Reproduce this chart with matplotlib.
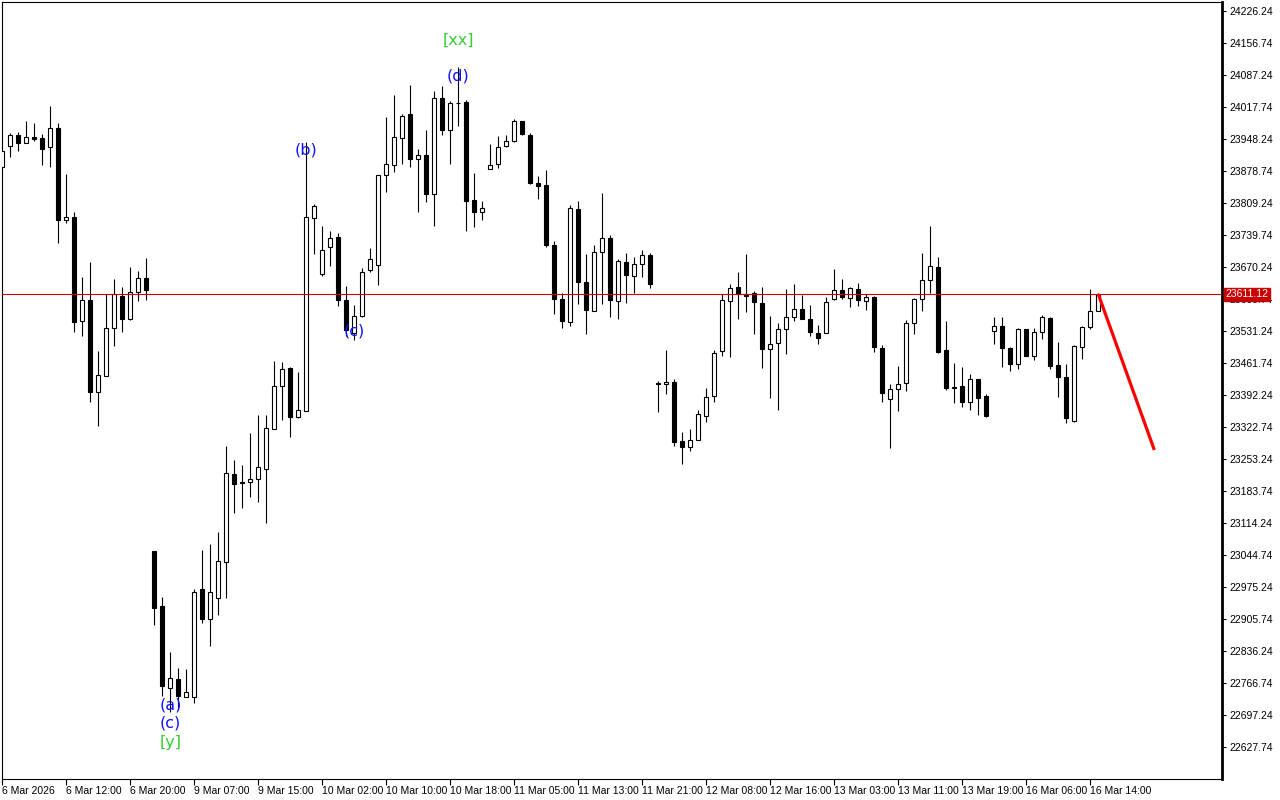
import matplotlib
matplotlib.use('Agg')
import matplotlib.pyplot as plt
import numpy as np

plt.rcParams['font.family'] = ['Liberation Sans Narrow', 'Liberation Sans', 'DejaVu Sans']

# hourly bars
opens = [
    23887.4, 23933.0, 23956.9, 23939.6, 23952.6, 23950.4, 23930.9, 23972.1, 23772.3, 23778.8,
    23553.0, 23598.6, 23398.8, 23433.5, 23537.8, 23607.3, 23557.3, 23616.0, 23646.4, 23053.4,
    22934.0, 22755.9, 22775.4, 22736.3, 22736.3, 22970.9, 22905.7, 22951.4, 23029.5, 23220.7,
    23203.3, 23203.3, 23209.8, 23231.5, 23318.4, 23411.8, 23450.9, 23344.5, 23357.5, 23776.7,
    23655.0, 23713.7, 23735.4, 23598.6, 23526.9, 23563.8, 23663.7, 23674.6, 23870.1, 23891.8,
    23950.4, 24002.5, 23904.8, 23913.5, 23828.8, 24037.3, 23967.8, 24026.4, 24028.6, 23815.8,
    23789.7, 23883.1, 23893.9, 23933.0, 23943.9, 23987.3, 23956.9, 23852.7, 23848.3, 23718.0,
    23600.7, 23550.8, 23796.2, 23637.7, 23574.7, 23702.8, 23733.2, 23596.4, 23681.1, 23650.7,
    23676.8, 23696.3, 23418.3, 23416.1, 23420.5, 23292.3, 23279.3, 23294.5, 23346.6, 23390.1,
    23487.8, 23596.4, 23626.8, 23611.6, 23613.8, 23592.1, 23492.2, 23505.2, 23535.6, 23561.6,
    23579.0, 23557.3, 23526.9, 23526.9, 23600.7, 23620.3, 23602.9, 23622.5, 23596.4, 23605.1,
    23494.3, 23383.6, 23405.3, 23418.3, 23548.6, 23600.7, 23642.0, 23670.2, 23490.0, 23409.6,
    23411.8, 23377.0, 23427.0, 23390.1, 23531.2, 23542.1, 23494.3, 23459.6, 23535.6, 23476.9,
    23529.1, 23559.5, 23457.4, 23431.3, 23335.8, 23496.5, 23539.9, 23574.7,
]
highs = [
    23924.4, 23961.3, 23963.4, 23987.3, 23983.0, 23959.1, 24019.9, 23983.0, 23872.2, 23789.7,
    23648.5, 23681.1, 23487.8, 23611.6, 23644.2, 23626.8, 23670.2, 23661.6, 23689.8, 23053.4,
    22953.5, 22834.1, 22799.3, 22797.2, 22970.9, 23055.6, 23068.6, 23094.7, 23281.5, 23251.1,
    23240.2, 23309.7, 23348.8, 23348.8, 23466.1, 23463.9, 23453.1, 23442.2, 23941.7, 23807.1,
    23759.3, 23748.4, 23744.1, 23629.0, 23587.7, 23668.1, 23711.5, 23870.1, 23996.0, 24043.8,
    24002.5, 24065.5, 23926.5, 23967.8, 24052.5, 24063.4, 24030.8, 24104.6, 24032.9, 23874.4,
    23813.6, 23937.4, 23954.8, 23956.9, 23991.7, 23987.3, 23961.3, 23867.9, 23880.9, 23726.7,
    23613.8, 23804.9, 23813.6, 23698.5, 23718.0, 23831.0, 23739.7, 23687.6, 23700.6, 23692.0,
    23707.2, 23700.6, 23422.6, 23490.0, 23427.0, 23311.9, 23318.4, 23359.7, 23407.4, 23490.0,
    23611.6, 23633.3, 23659.4, 23698.5, 23618.1, 23626.8, 23563.8, 23548.6, 23622.5, 23633.3,
    23609.4, 23587.7, 23544.3, 23605.1, 23665.9, 23644.2, 23626.8, 23635.5, 23611.6, 23607.3,
    23500.8, 23416.1, 23455.2, 23555.1, 23602.9, 23700.6, 23759.3, 23692.0, 23553.0, 23461.7,
    23453.1, 23437.9, 23427.0, 23394.4, 23561.6, 23561.6, 23496.5, 23537.8, 23535.6, 23537.8,
    23566.0, 23561.6, 23507.4, 23459.6, 23500.8, 23542.1, 23622.5, 23613.8,
]
lows = [
    23885.3, 23909.2, 23922.2, 23939.6, 23943.9, 23891.8, 23887.4, 23722.4, 23765.8, 23529.1,
    23520.4, 23377.0, 23324.9, 23433.5, 23498.7, 23529.1, 23555.1, 23596.4, 23598.6, 22892.7,
    22738.5, 22703.8, 22708.1, 22736.3, 22723.3, 22897.1, 22847.1, 22914.4, 22951.4, 23136.0,
    23146.8, 23170.7, 23159.9, 23114.2, 23318.4, 23337.9, 23301.0, 23342.3, 23357.5, 23698.5,
    23650.7, 23672.4, 23585.5, 23520.4, 23511.7, 23561.6, 23659.4, 23631.2, 23833.1, 23876.6,
    23893.9, 23887.4, 23789.7, 23811.4, 23759.3, 23956.9, 23893.9, 23976.5, 23748.4, 23757.1,
    23772.3, 23883.1, 23885.3, 23930.9, 23941.7, 23956.9, 23850.5, 23817.9, 23713.7, 23568.2,
    23537.8, 23542.1, 23589.9, 23524.7, 23574.7, 23589.9, 23561.6, 23557.3, 23592.1, 23613.8,
    23648.5, 23624.6, 23355.3, 23394.4, 23281.5, 23242.4, 23270.6, 23294.5, 23333.6, 23377.0,
    23476.9, 23474.8, 23557.3, 23572.5, 23524.7, 23450.9, 23385.7, 23359.7, 23481.3, 23553.0,
    23557.3, 23520.4, 23503.0, 23526.9, 23598.6, 23600.7, 23583.4, 23585.5, 23576.9, 23485.6,
    23377.0, 23277.1, 23357.5, 23400.9, 23524.7, 23574.7, 23613.8, 23483.5, 23403.1, 23375.0,
    23366.2, 23359.7, 23348.8, 23344.5, 23503.0, 23453.1, 23444.4, 23448.7, 23476.9, 23468.3,
    23513.9, 23448.7, 23387.9, 23331.4, 23333.6, 23470.4, 23535.6, 23574.7,
]
closes = [
    23922.2, 23956.9, 23939.6, 23952.6, 23948.2, 23926.5, 23972.1, 23772.3, 23778.8, 23550.8,
    23598.6, 23398.8, 23435.7, 23537.8, 23611.6, 23557.3, 23616.0, 23646.4, 23620.3, 22929.6,
    22760.2, 22777.6, 22738.5, 22747.2, 22964.4, 22905.7, 22964.4, 23031.7, 23222.8, 23198.9,
    23201.1, 23209.8, 23235.9, 23320.6, 23411.8, 23448.7, 23344.5, 23359.7, 23778.8, 23802.7,
    23707.2, 23733.2, 23598.6, 23533.4, 23563.8, 23659.4, 23687.6, 23870.1, 23893.9, 23952.6,
    23998.2, 23904.8, 23913.5, 23828.8, 24037.3, 23967.8, 24026.4, 24026.4, 23813.6, 23789.7,
    23798.4, 23891.8, 23930.9, 23943.9, 23987.3, 23959.1, 23852.7, 23846.2, 23718.0, 23600.7,
    23553.0, 23798.4, 23637.7, 23576.9, 23702.8, 23733.2, 23598.6, 23683.3, 23652.9, 23676.8,
    23696.3, 23633.3, 23416.1, 23420.5, 23290.2, 23279.3, 23294.5, 23351.0, 23387.9, 23483.5,
    23598.6, 23624.6, 23611.6, 23607.3, 23594.2, 23492.2, 23503.0, 23535.6, 23561.6, 23579.0,
    23557.3, 23529.1, 23516.0, 23594.2, 23620.3, 23605.1, 23624.6, 23598.6, 23605.1, 23496.5,
    23396.6, 23405.3, 23416.1, 23548.6, 23600.7, 23642.0, 23672.4, 23485.6, 23407.4, 23407.4,
    23377.0, 23427.0, 23385.7, 23346.6, 23542.1, 23494.3, 23459.6, 23535.6, 23476.9, 23529.1,
    23561.6, 23455.2, 23431.3, 23342.3, 23498.7, 23539.9, 23574.7, 23611.12,
]

date_labels = ["6 Mar 2026", "6 Mar 12:00", "6 Mar 20:00", "9 Mar 07:00", "9 Mar 15:00",
               "10 Mar 02:00", "10 Mar 10:00", "10 Mar 18:00", "11 Mar 05:00", "11 Mar 13:00",
               "11 Mar 21:00", "12 Mar 08:00", "12 Mar 16:00", "13 Mar 03:00", "13 Mar 11:00",
               "13 Mar 19:00", "16 Mar 06:00", "16 Mar 14:00"]

price_ticks = [22627.74, 22697.24, 22766.74, 22836.24, 22905.74, 22975.24, 23044.74, 23114.24,
               23183.74, 23253.24, 23322.74, 23392.24, 23461.74, 23531.24, 23600.74, 23670.24,
               23739.74, 23809.24, 23878.74, 23948.24, 24017.74, 24087.24, 24156.74, 24226.24]

last_price = 23611.12

# wave marks: text, bar, price, colour
wave_text = ["(b)", "(d)", "[xx]", "(c)", "(a)", "(c)", "[y]"]
wave_bar = [38, 57, 57, 44, 21, 21, 21]
wave_price = [23924, 24085, 24163, 23531, 22719, 22680, 22638]
wave_color = ["#1010ff", "#1010ff", "#32cd32", "#1010ff", "#1010ff", "#1010ff", "#32cd32"]

# forecast arrow
forecast_bar = [137, 144]
forecast_price = [23611.12, 23272.8]

o = np.array(opens)
h = np.array(highs)
l = np.array(lows)
c = np.array(closes)
x = np.arange(len(o))
up = c >= o

fig = plt.figure(figsize=(12.8, 8), dpi=100)
ax = fig.add_axes([2 / 1280, 21 / 800, 1220 / 1280, 777 / 800])

ax.vlines(x, l, h, color='black', lw=0.8, zorder=2)
bottom = np.minimum(o, c)
height = np.abs(c - o)
ax.bar(x[up], height[up], bottom=bottom[up], width=0.5, facecolor='white',
       edgecolor='black', linewidth=0.8, zorder=3)
ax.bar(x[~up], height[~up], bottom=bottom[~up], width=0.5, facecolor='black',
       edgecolor='black', linewidth=0.8, zorder=3)

ax.axhline(last_price, color='#d00000', lw=0.8, zorder=4)
ax.plot(forecast_bar, forecast_price, color='#ff0000', lw=2.3, zorder=5, solid_capstyle='butt')

for t, b, p, col in zip(wave_text, wave_bar, wave_price, wave_color):
    ax.text(b, p, t, color=col, fontsize=11.5, ha='center', va='center',
            family=['DejaVu Sans'], zorder=6)

ax.set_xlim(-0.04, 152.46)
ax.set_ylim(22558.2, 24245.8)

ax.yaxis.tick_right()
ax.set_yticks(price_ticks)
ax.set_yticklabels([f"{v:.2f}" for v in price_ticks])
ax.tick_params(axis='y', length=3, width=0.8, pad=2, labelsize=7.5, direction='out')

ax.set_xticks(range(0, len(o), 8))
ax.set_xticklabels(date_labels, ha='left')
ax.tick_params(axis='x', length=4, width=0.8, pad=1, labelsize=7.5, direction='out')

for s in ax.spines.values():
    s.set_color('black')
    s.set_linewidth(0.8)
ax.spines['right'].set_linewidth(2)

ax.annotate(f"{last_price:.2f}", xy=(1.003, last_price), xycoords=('axes fraction', 'data'),
            color='white', fontsize=7.5, va='center', ha='left', zorder=10,
            bbox=dict(boxstyle='square,pad=0.15', facecolor='#c80000', edgecolor='#c80000'),
            annotation_clip=False)

fig.savefig('out.png', dpi=100, facecolor='white')
